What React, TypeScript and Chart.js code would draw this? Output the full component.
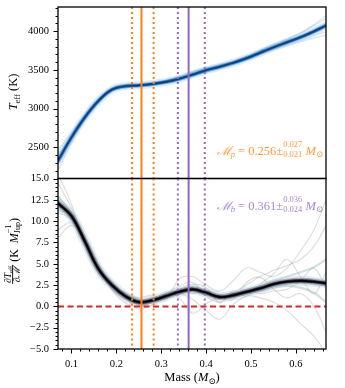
import React, { useEffect, useRef } from "react";
import { Chart, registerables } from "chart.js";
Chart.register(...registerables);

// ---------- data ----------
const MASS = [0.07, 0.10, 0.13, 0.16, 0.19, 0.22, 0.25, 0.28, 0.31, 0.34, 0.37, 0.40, 0.43, 0.46, 0.49, 0.52, 0.55, 0.58, 0.61, 0.64, 0.667];

const TEFF_MEDIAN = [2330, 2630, 2890, 3100, 3245, 3290, 3300, 3318, 3345, 3385, 3440, 3495, 3540, 3590, 3650, 3720, 3790, 3855, 3920, 3995, 4070];
const TEFF_SAMPLE_1 = [2200, 2560, 2860, 3080, 3235, 3285, 3300, 3320, 3360, 3420, 3480, 3530, 3570, 3610, 3670, 3750, 3820, 3890, 3970, 4080, 4200];
const TEFF_SAMPLE_2 = [2470, 2690, 2920, 3110, 3255, 3300, 3310, 3320, 3340, 3370, 3420, 3470, 3520, 3570, 3630, 3700, 3760, 3810, 3860, 3910, 3950];
const TEFF_SAMPLE_3 = [2280, 2600, 2870, 3090, 3230, 3280, 3295, 3310, 3340, 3385, 3445, 3500, 3550, 3600, 3670, 3750, 3830, 3900, 3980, 4070, 4160];
const TEFF_SAMPLE_4 = [2400, 2650, 2900, 3110, 3260, 3300, 3300, 3305, 3330, 3370, 3430, 3490, 3540, 3585, 3640, 3720, 3780, 3830, 3880, 3940, 3990];
const TEFF_SAMPLE_5 = [2330, 2640, 2900, 3100, 3245, 3290, 3305, 3325, 3355, 3400, 3470, 3520, 3545, 3580, 3640, 3730, 3800, 3870, 3930, 4010, 4100];

const DTDM_MEDIAN = [12.1, 10.6, 7.6, 4.4, 2.5, 1.2, 0.5, 0.7, 1.2, 1.7, 2.0, 1.6, 1.1, 1.3, 1.7, 2.1, 2.6, 2.9, 3.0, 2.9, 2.7];
const DTDM_SAMPLE_1 = [14.5, 11.5, 8.0, 4.5, 2.0, 0.8, 0.3, 0.9, 1.5, 2.4, 2.8, 1.2, 0.5, 1.6, 2.5, 3.5, 4.2, 4.8, 5.5, 7.0, 9.5];
const DTDM_SAMPLE_2 = [9.0, 9.8, 7.6, 4.8, 2.6, 1.0, -0.3, 0.2, 1.0, 1.5, 0.8, -0.5, -1.5, 0.2, 1.2, 1.0, 0.5, -0.5, -2.0, -3.5, -5.5];
const DTDM_SAMPLE_3 = [15.5, 12.0, 7.0, 3.8, 2.4, 1.4, 1.0, 1.3, 0.8, 3.2, 3.5, 2.5, 1.8, 3.0, 4.5, 4.0, 3.5, 4.5, 6.5, 9.0, 12.5];
const DTDM_SAMPLE_4 = [11.0, 10.2, 8.2, 5.0, 2.0, 0.4, 0.0, 0.5, 1.6, 1.0, -0.8, 0.3, 1.0, 0.8, 2.8, 3.4, 2.0, 1.0, 1.5, 0.0, -3.0];
const DTDM_SAMPLE_5 = [13.0, 11.0, 7.4, 4.2, 2.6, 1.6, 0.9, 0.4, 1.3, 2.0, 2.6, 2.2, 0.4, 1.8, 1.2, 2.6, 3.8, 5.5, 3.5, 1.5, 4.0];
const DTDM_SAMPLE_6 = [8.0, 9.5, 7.9, 4.9, 2.2, 0.9, 0.6, 1.1, 0.9, 1.8, 1.5, 1.8, 1.4, 1.0, 2.0, 1.5, 1.8, 2.0, 3.0, 4.5, 2.0];
const DTDM_SAMPLE_7 = [12.8, 10.9, 7.8, 4.3, 2.3, 1.1, 0.3, 0.6, 1.4, 1.9, 2.2, 1.7, 1.0, 1.4, 1.9, 2.4, 3.0, 3.5, 4.0, 4.6, 5.5];
const DTDM_SAMPLE_8 = [11.4, 10.3, 7.5, 4.6, 2.7, 1.4, 0.7, 0.8, 1.0, 1.5, 1.8, 1.4, 1.2, 1.2, 1.5, 1.8, 2.2, 2.4, 2.2, 1.6, 0.5];

const MASS_TICKS = [0.1, 0.2, 0.3, 0.4, 0.5, 0.6];
const MASS_TICK_LABELS = ["0.1", "0.2", "0.3", "0.4", "0.5", "0.6"];
const TEFF_TICKS = [2500, 3000, 3500, 4000];
const TEFF_TICK_LABELS = ["2500", "3000", "3500", "4000"];
const DTDM_TICKS = [-5, -2.5, 0, 2.5, 5, 7.5, 10, 12.5, 15];
const DTDM_TICK_LABELS = ["\u22125.0", "\u22122.5", "0.0", "2.5", "5.0", "7.5", "10.0", "12.5", "15.0"];

// primary (p) and secondary (b) mass estimates: [value, +err, -err]
const MASS_P = [0.256, 0.027, 0.021];
const MASS_B = [0.361, 0.036, 0.024];

// ---------- styling ----------
const FONT = '"Liberation Serif", "DejaVu Serif", serif';
const ORANGE = "#ff7f0e";
const PURPLE = "#9467bd";
const X_MIN = 0.07, X_MAX = 0.667;

function font(size: number, italic?: boolean) {
  return `${italic ? "italic " : ""}${size}px ${FONT}`;
}

type Part = { t?: string; sup?: string; sub?: string; size: number; italic?: boolean; dy?: number };

function partWidth(ctx: CanvasRenderingContext2D, p: Part) {
  ctx.font = font(p.size, p.italic);
  if (p.sup !== undefined || p.sub !== undefined) {
    return Math.max(ctx.measureText(p.sup || "").width, ctx.measureText(p.sub || "").width);
  }
  return ctx.measureText(p.t || "").width;
}

function drawRich(ctx: CanvasRenderingContext2D, parts: Part[], x: number, y: number, align: "left" | "center" | "right", color: string) {
  const widths = parts.map((p) => partWidth(ctx, p));
  const total = widths.reduce((a, b) => a + b, 0);
  let cx = align === "right" ? x - total : align === "center" ? x - total / 2 : x;
  ctx.save();
  ctx.fillStyle = color;
  ctx.textAlign = "left";
  ctx.textBaseline = "alphabetic";
  parts.forEach((p, i) => {
    ctx.font = font(p.size, p.italic);
    if (p.sup !== undefined || p.sub !== undefined) {
      if (p.sup) ctx.fillText(p.sup, cx, y - p.size * 0.85);
      if (p.sub) ctx.fillText(p.sub, cx, y + p.size * 0.3);
    } else {
      ctx.fillText(p.t || "", cx, y + (p.dy || 0));
    }
    cx += widths[i];
  });
  ctx.restore();
  return total;
}

function massParts(sym: string, m: number[]): Part[] {
  return [
    { t: "\u2133", size: 12.5, italic: true },
    { t: sym, size: 8.5, italic: true, dy: 2.5 },
    { t: " = " + m[0].toFixed(3) + "\u00b1", size: 12.5 },
    { sup: m[1].toFixed(3), sub: m[2].toFixed(3), size: 8.5 },
    { t: " ", size: 12.5 },
    { t: "M", size: 12.5, italic: true },
    { t: "\u2299", size: 8.5, dy: 2.5 },
  ];
}

function drawVLines(chart: any) {
  const ctx = chart.ctx as CanvasRenderingContext2D;
  const a = chart.chartArea;
  const xs = chart.scales.x;
  const lines: [number, string, boolean][] = [
    [MASS_P[0] - MASS_P[2], ORANGE, true],
    [MASS_P[0] + MASS_P[1], ORANGE, true],
    [MASS_P[0], ORANGE, false],
    [MASS_B[0] - MASS_B[2], PURPLE, true],
    [MASS_B[0] + MASS_B[1], PURPLE, true],
    [MASS_B[0], PURPLE, false],
  ];
  ctx.save();
  ctx.beginPath();
  ctx.rect(a.left, a.top, a.right - a.left, a.bottom - a.top);
  ctx.clip();
  for (const [v, c, dotted] of lines) {
    const x = xs.getPixelForValue(v);
    ctx.beginPath();
    ctx.strokeStyle = c;
    ctx.lineWidth = 2;
    ctx.lineCap = "butt";
    ctx.setLineDash(dotted ? [2, 3] : []);
    ctx.moveTo(x, a.top);
    ctx.lineTo(x, a.bottom);
    ctx.stroke();
  }
  ctx.restore();
}

function drawFrame(chart: any) {
  const ctx = chart.ctx as CanvasRenderingContext2D;
  const a = chart.chartArea;
  ctx.save();
  ctx.strokeStyle = "#000";
  ctx.lineWidth = 1.3;
  ctx.setLineDash([]);
  ctx.strokeRect(a.left, a.top, a.right - a.left, a.bottom - a.top);
  ctx.restore();
}

function drawYTicks(chart: any, majors: number[], minorStep: number) {
  const ctx = chart.ctx as CanvasRenderingContext2D;
  const a = chart.chartArea;
  const ys = chart.scales.y;
  ctx.save();
  ctx.strokeStyle = "#000";
  ctx.lineWidth = 1;
  ctx.beginPath();
  for (const v of majors) {
    const y = Math.round(ys.getPixelForValue(v)) + 0.5;
    ctx.moveTo(a.left - 4.5, y);
    ctx.lineTo(a.left, y);
  }
  const n0 = Math.ceil(ys.min / minorStep), n1 = Math.floor(ys.max / minorStep);
  for (let n = n0; n <= n1; n++) {
    const v = n * minorStep;
    if (majors.some((m) => Math.abs(m - v) < minorStep * 0.01)) continue;
    const y = Math.round(ys.getPixelForValue(v)) + 0.5;
    ctx.moveTo(a.left - 2.5, y);
    ctx.lineTo(a.left, y);
  }
  ctx.stroke();
  ctx.restore();
}

function drawXTicks(chart: any, majors: number[], minorStep: number) {
  const ctx = chart.ctx as CanvasRenderingContext2D;
  const a = chart.chartArea;
  const xs = chart.scales.x;
  ctx.save();
  ctx.strokeStyle = "#000";
  ctx.lineWidth = 1;
  ctx.beginPath();
  for (const v of majors) {
    const x = Math.round(xs.getPixelForValue(v)) + 0.5;
    ctx.moveTo(x, a.bottom);
    ctx.lineTo(x, a.bottom + 4.5);
  }
  const n0 = Math.ceil(xs.min / minorStep - 1e-6), n1 = Math.floor(xs.max / minorStep + 1e-6);
  for (let n = n0; n <= n1; n++) {
    const v = n * minorStep;
    if (majors.some((m) => Math.abs(m - v) < minorStep * 0.01)) continue;
    const x = Math.round(xs.getPixelForValue(v)) + 0.5;
    ctx.moveTo(x, a.bottom);
    ctx.lineTo(x, a.bottom + 2.5);
  }
  ctx.stroke();
  ctx.restore();
}

function ds(values: number[], color: string, width: number, order: number) {
  return {
    data: MASS.map((m, i) => ({ x: m, y: values[i] })),
    borderColor: color,
    backgroundColor: color,
    borderWidth: width,
    pointRadius: 0,
    fill: false,
    tension: 0.4,
    borderCapStyle: "round",
    borderJoinStyle: "round",
    clip: 0,
    order,
  };
}

function labelFrom(ticks: number[], labels: string[]) {
  return (v: any) => {
    const i = ticks.findIndex((t) => Math.abs(t - Number(v)) < 1e-9);
    return i >= 0 ? labels[i] : "";
  };
}

const tickFont = { family: FONT, size: 10.5 };

function topConfig(): any {
  const samples = [TEFF_SAMPLE_1, TEFF_SAMPLE_2, TEFF_SAMPLE_3, TEFF_SAMPLE_4, TEFF_SAMPLE_5];
  const datasets = [
    ...samples.map((s) => ds(s, "rgba(66,146,198,0.2)", 1.4, 10)),
    ds(TEFF_MEDIAN, "rgba(140,190,230,0.3)", 8, 9),
    ds(TEFF_MEDIAN, "rgba(40,110,180,0.45)", 4.5, 8),
    ds(TEFF_MEDIAN, "rgba(15,80,155,0.85)", 2.6, 7),
    ds(TEFF_MEDIAN, "#084080", 1.3, 6),
  ];
  return {
    type: "line",
    data: { datasets },
    options: {
      animation: false,
      responsive: false,
      devicePixelRatio: 1,
      events: [],
      layout: { padding: { top: 7, right: 19, bottom: 1.5, left: 0 } },
      plugins: { legend: { display: false }, tooltip: { enabled: false } },
      scales: {
        x: { type: "linear", min: X_MIN, max: X_MAX, display: false },
        y: {
          type: "linear",
          min: 2100,
          max: 4310,
          afterBuildTicks: (s: any) => { s.ticks = TEFF_TICKS.map((v) => ({ value: v })); },
          afterFit: (s: any) => { s.width = 58; s.paddingTop = 0; s.paddingBottom = 0; },
          grid: { display: false, drawTicks: false },
          border: { display: false },
          ticks: { font: tickFont, color: "#000", padding: 9, callback: labelFrom(TEFF_TICKS, TEFF_TICK_LABELS) },
        },
      },
    },
    plugins: [
      {
        id: "topDecor",
        afterDatasetsDraw(chart: any) {
          drawVLines(chart);
          const a = chart.chartArea;
          drawRich(chart.ctx, massParts("p", MASS_P), a.right - 3, 154.5, "right", "rgba(255,127,14,0.8)");
        },
        afterDraw(chart: any) {
          drawFrame(chart);
          drawYTicks(chart, TEFF_TICKS, 100);
          const ctx = chart.ctx as CanvasRenderingContext2D;
          ctx.save();
          ctx.translate(17, 92);
          ctx.rotate(-Math.PI / 2);
          drawRich(ctx, [
            { t: "T", size: 12.5, italic: true },
            { t: "eff", size: 8.5, dy: 2.5 },
            { t: " (K)", size: 12.5 },
          ], 0, 0, "center", "#000");
          ctx.restore();
        },
      },
    ],
  };
}

function botConfig(): any {
  const grays = [DTDM_SAMPLE_1, DTDM_SAMPLE_2, DTDM_SAMPLE_3, DTDM_SAMPLE_4, DTDM_SAMPLE_5, DTDM_SAMPLE_6];
  const teals = [DTDM_SAMPLE_7, DTDM_SAMPLE_8];
  const datasets = [
    ...grays.map((s) => ds(s, "rgba(140,140,140,0.3)", 1.1, 12)),
    ...teals.map((s) => ds(s, "rgba(120,170,170,0.35)", 2.2, 11)),
    ds(DTDM_MEDIAN, "rgba(175,210,210,0.4)", 10, 10),
    ds(DTDM_MEDIAN, "rgba(100,100,130,0.5)", 6, 9),
    ds(DTDM_MEDIAN, "rgba(45,35,60,0.85)", 3.4, 8),
    ds(DTDM_MEDIAN, "#000", 1.8, 7),
  ];
  return {
    type: "line",
    data: { datasets },
    options: {
      animation: false,
      responsive: false,
      devicePixelRatio: 1,
      events: [],
      layout: { padding: { top: 10.5, right: 19, bottom: 0, left: 0 } },
      plugins: { legend: { display: false }, tooltip: { enabled: false } },
      scales: {
        x: {
          type: "linear",
          min: X_MIN,
          max: X_MAX,
          afterBuildTicks: (s: any) => { s.ticks = MASS_TICKS.map((v) => ({ value: v })); },
          afterFit: (s: any) => { s.height = 39; s.paddingLeft = 0; s.paddingRight = 0; },
          grid: { display: false, drawTicks: false },
          border: { display: false },
          ticks: { font: tickFont, color: "#000", padding: 9, maxRotation: 0, autoSkip: false, callback: labelFrom(MASS_TICKS, MASS_TICK_LABELS) },
        },
        y: {
          type: "linear",
          min: -5,
          max: 15,
          afterBuildTicks: (s: any) => { s.ticks = DTDM_TICKS.map((v) => ({ value: v })); },
          afterFit: (s: any) => { s.width = 58; s.paddingTop = 0; s.paddingBottom = 0; },
          grid: { display: false, drawTicks: false },
          border: { display: false },
          ticks: { font: tickFont, color: "#000", padding: 9, callback: labelFrom(DTDM_TICKS, DTDM_TICK_LABELS) },
        },
      },
    },
    plugins: [
      {
        id: "botDecor",
        afterDatasetsDraw(chart: any) {
          const ctx = chart.ctx as CanvasRenderingContext2D;
          const a = chart.chartArea;
          const y0 = chart.scales.y.getPixelForValue(0);
          ctx.save();
          ctx.strokeStyle = "#d62728";
          ctx.lineWidth = 2;
          ctx.setLineDash([6, 3.5]);
          ctx.beginPath();
          ctx.moveTo(a.left, y0);
          ctx.lineTo(a.right, y0);
          ctx.stroke();
          ctx.restore();
          drawVLines(chart);
          drawRich(ctx, massParts("b", MASS_B), a.right - 3, 41.5, "right", "rgba(148,103,189,0.8)");
        },
        afterDraw(chart: any) {
          drawFrame(chart);
          drawYTicks(chart, DTDM_TICKS, 0.5);
          drawXTicks(chart, MASS_TICKS, 0.02);
          const ctx = chart.ctx as CanvasRenderingContext2D;
          const a = chart.chartArea;
          // x title
          drawRich(ctx, [
            { t: "Mass (", size: 12.5 },
            { t: "M", size: 12.5, italic: true },
            { t: "\u2299", size: 8.5, dy: 2.5 },
            { t: ")", size: 12.5 },
          ], (a.left + a.right) / 2, 213, "center", "#000");
          // y title (rotated)
          ctx.save();
          ctx.translate(13, 83);
          ctx.rotate(-Math.PI / 2);
          const numParts: Part[] = [
            { t: "\u2202", size: 9.5 },
            { t: "T", size: 9.5, italic: true },
            { t: "eff", size: 6.5, dy: 1.5 },
          ];
          const denParts: Part[] = [
            { t: "\u2202", size: 9.5 },
            { t: "\u2133", size: 9.5, italic: true },
          ];
          const parParts: Part[] = [
            { t: "(K  ", size: 12 },
            { t: "M", size: 12, italic: true },
            { sup: "\u22121", sub: "Jup", size: 8 },
            { t: ")", size: 12 },
          ];
          const wn = numParts.reduce((s, p) => s + partWidth(ctx, p), 0);
          const wd = denParts.reduce((s, p) => s + partWidth(ctx, p), 0);
          const wp = parParts.reduce((s, p) => s + partWidth(ctx, p), 0);
          const wf = Math.max(wn, wd) + 2;
          const total = wf + 3 + wp;
          const lx = -total / 2;
          const fc = lx + wf / 2;
          ctx.fillStyle = "#000";
          ctx.fillRect(lx, -0.8, wf, 0.9);
          drawRich(ctx, numParts, fc, -2, "center", "#000");
          drawRich(ctx, denParts, fc, 7, "center", "#000");
          drawRich(ctx, parParts, lx + wf + 3, 4.5, "left", "#000");
          ctx.restore();
        },
      },
    ],
  };
}

export default function App() {
  const topRef = useRef<HTMLCanvasElement>(null);
  const botRef = useRef<HTMLCanvasElement>(null);
  useEffect(() => {
    const top = new Chart(topRef.current as HTMLCanvasElement, topConfig());
    const bot = new Chart(botRef.current as HTMLCanvasElement, botConfig());
    return () => {
      top.destroy();
      bot.destroy();
    };
  }, []);
  return (
    <div style={{ position: "absolute", left: 0, top: 0, width: 345, height: 388, background: "#fff" }}>
      <canvas ref={topRef} width={345} height={180} style={{ position: "absolute", left: 0, top: 0, width: 345, height: 180 }} />
      <canvas ref={botRef} width={345} height={220} style={{ position: "absolute", left: 0, top: 168, width: 345, height: 220 }} />
    </div>
  );
}
